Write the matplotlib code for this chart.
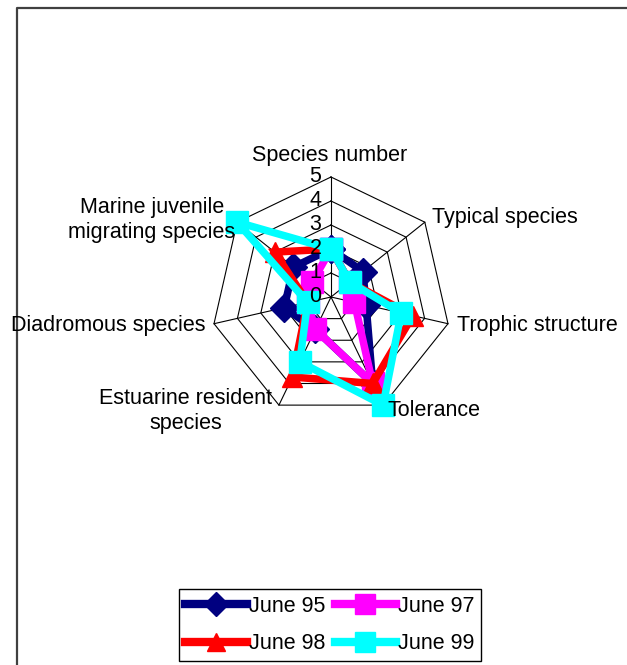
import numpy as np
import matplotlib
matplotlib.use("Agg")
import matplotlib.pyplot as plt
from matplotlib.lines import Line2D

plt.rcParams['font.family'] = ['Liberation Sans', 'DejaVu Sans']

categories = ["Species number", "Typical species", "Trophic structure", "Tolerance",
              "Estuarine resident\nspecies", "Diadromous species",
              "Marine juvenile\nmigrating species"]
tick_labels = ["0", "1", "2", "3", "4", "5"]
series_names = ["June 95", "June 97", "June 98", "June 99"]
june95 = [2, 1.7, 1.5, 4, 1.5, 2, 2]
june97 = [2, 1, 1, 4, 1.5, 1, 1]
june98 = [2, 1, 3.5, 4, 3.7, 1, 3]
june99 = [2, 1, 3, 5, 3, 1, 5]
series_values = [june95, june97, june98, june99]
colors = ["#000080", "#FF00FF", "#FF0000", "#00FFFF"]
markers = ["D", "s", "^", "s"]
msizes = [14, 15.5, 15, 15.5]

W, H = 627, 665
CX, CY, UNIT = 331, 297, 24.0
fig = plt.figure(figsize=(W / 100, H / 100), dpi=100)
ax = fig.add_axes([0, 0, 1, 1])
ax.set_xlim(-CX / UNIT, (W - CX) / UNIT)
ax.set_ylim(-(H - CY) / UNIT, CY / UNIT)
ax.axis('off')

def px(x, y):
    return (x - CX) / UNIT, (CY - y) / UNIT

n = len(categories)
theta = np.arange(n) * 2 * np.pi / n

def xy(vals):
    v = np.asarray(vals, dtype=float)
    return v * np.sin(theta), v * np.cos(theta)

# grid
rmax = 5
for r in range(1, rmax + 1):
    gx, gy = xy([r] * n)
    ax.plot(np.append(gx, gx[0]), np.append(gy, gy[0]), color='black', lw=0.8, zorder=1)
for t in theta:
    ax.plot([0, rmax * np.sin(t)], [0, rmax * np.cos(t)], color='black', lw=0.8, zorder=1)

# radial tick labels
for i, lab in enumerate(tick_labels):
    ax.text(-0.65, i, lab, ha='center', va='center', fontsize=15.5, zorder=10)

# series
LW = 5.4
for k, (vals, c, m, ms) in enumerate(zip(series_values, colors, markers, msizes)):
    sx, sy = xy(vals)
    ax.plot(np.append(sx, sx[0]), np.append(sy, sy[0]), color=c, lw=LW,
            marker=m, markersize=ms, markerfacecolor=c, markeredgecolor=c,
            solid_joinstyle='miter', zorder=3 + k)

# category labels
fs = 15.5
lab_specs = [
    (330, 155, 'center', 'center'),
    (432, 218, 'left', 'center'),
    (457, 326, 'left', 'center'),
    (388, 410, 'left', 'center'),
    (186, 411, 'center', 'center'),
    (206, 326, 'right', 'center'),
    (152, 220, 'center', 'center'),
]
for lab, (x, y, ha, va) in zip(categories, lab_specs):
    dx, dy = px(x, y)
    ax.text(dx, dy, lab, ha=ha, va=va, fontsize=fs, multialignment='center',
            linespacing=1.3, zorder=10)

# outer frame (extends beyond figure)
fx0, fy0 = px(17, 8)
fx1, fy1 = px(W + 20, H + 20)
ax.plot([fx0, fx0, fx1], [fy1, fy0, fy0], color='#404040', lw=1.6, clip_on=False, zorder=0)

# legend
handles = [Line2D([], [], color=c, lw=6, marker=m, markersize=ms * 0.9,
                  markerfacecolor=c, markeredgecolor=c)
           for c, m, ms in zip(colors, markers, msizes)]
order = [0, 2, 1, 3]
leg = fig.legend([handles[i] for i in order], [series_names[i] for i in order],
                 ncol=2, loc='center', bbox_to_anchor=(330 / W, 1 - 625 / H),
                 fontsize=fs, frameon=True, fancybox=False, framealpha=1,
                 edgecolor='black', handlelength=2.85, handletextpad=0.1,
                 columnspacing=0.45, labelspacing=0.75, borderpad=0.3,
                 borderaxespad=0)
leg.get_frame().set_linewidth(1.0)

fig.savefig("out.png", dpi=100)
